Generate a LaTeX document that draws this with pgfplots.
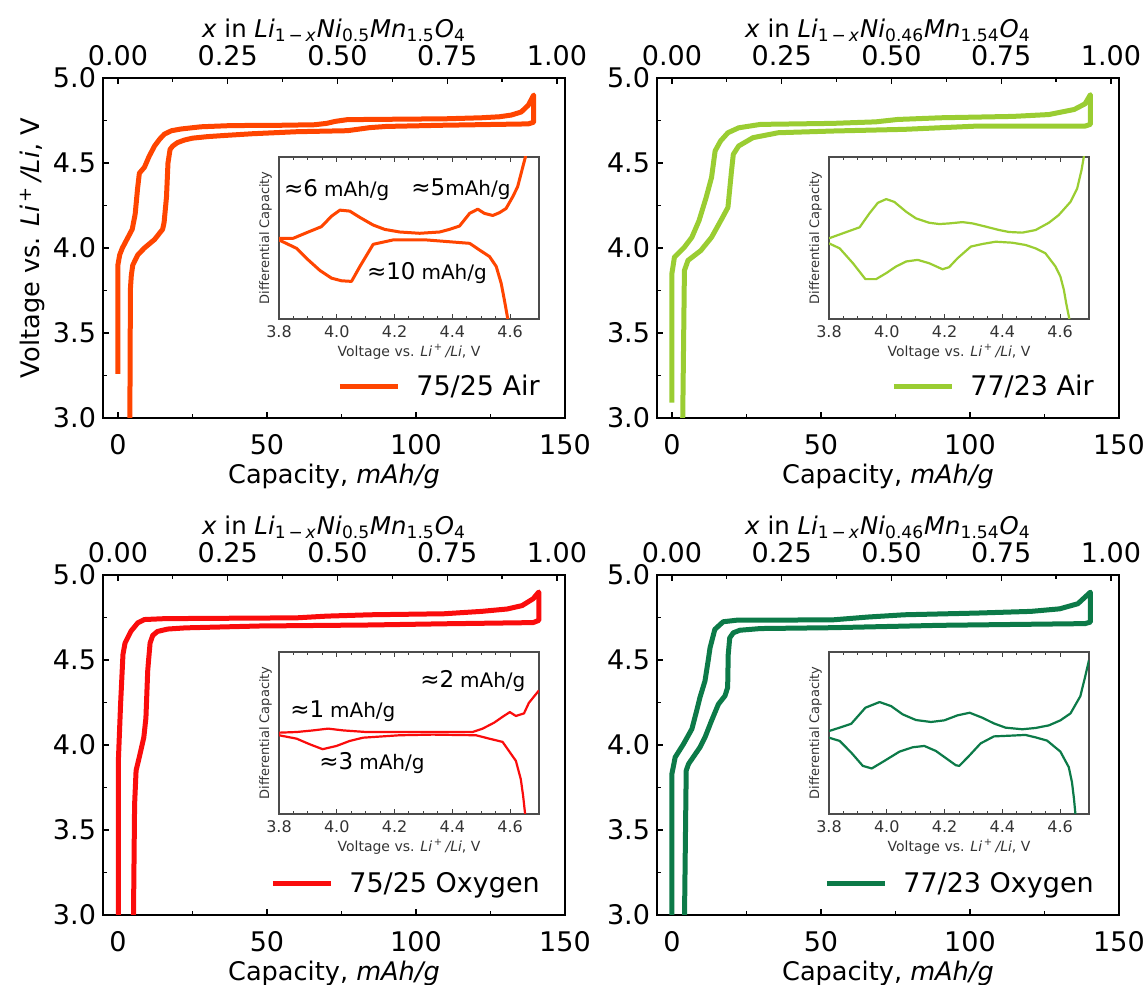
\documentclass[border=0pt]{standalone}
\usepackage{fontspec}
\setmainfont{DejaVu Sans}
\usepackage{pgfplots}
\pgfplotsset{compat=1.18}
\definecolor{cOR}{RGB}{255,69,0}
\definecolor{cYG}{RGB}{154,205,50}
\definecolor{cRD}{RGB}{250,12,12}
\definecolor{cGR}{RGB}{12,122,72}
\newcommand{\fs}[1]{\fontsize{#1}{#1}\selectfont}
\pgfplotsset{
  /pgf/number format/assume math mode=true,
  mainax/.style={scale only axis, width=231pt, height=170pt, anchor=south west,
    xmin=-5, xmax=150, ymin=3, ymax=5,
    xtick={0,50,100,150}, minor xtick={25,75,125},
    ytick={3,3.5,4,4.5,5}, minor ytick={3.25,3.75,4.25,4.75},
    tick align=inside, xtick pos=left, ytick pos=left,
    major tick length=3pt, minor tick length=2pt,
    every tick/.style={black, line width=0.6pt},
    axis line style={black, line width=1pt},
    ticklabel style={font=\fs{13.5}},
    xticklabel shift=4.5pt,
    yticklabel style={/pgf/number format/fixed, /pgf/number format/fixed zerofill, /pgf/number format/precision=1},
    xlabel={Capacity, \textit{mAh/g}},
    xlabel shift=-2pt,
    ylabel shift=-3pt,
    label style={font=\fs{12.8}},
    legend style={draw=none, fill=none, font=\fs{13.5}, at={(0.955,0.045)}, anchor=south east, inner sep=0pt},
    legend image code/.code={\draw[##1, line width=2.5pt] (0pt,0pt) -- (29pt,0pt); \path (35pt,0pt);},
  },
  topax/.style={scale only axis, width=231pt, height=170pt, anchor=south west,
    xmin=-0.03394, xmax=1.01833, ymin=0, ymax=1,
    axis x line*=top, axis y line=none,
    xtick={0,0.25,0.5,0.75,1}, minor xtick={0.125,0.375,0.625,0.875},
    tick align=inside, major tick length=3pt, minor tick length=2pt,
    every tick/.style={black, line width=0.6pt},
    axis line style={black, line width=1pt},
    ticklabel style={font=\fs{13.5}},
    xticklabel style={inner sep=1pt, /pgf/number format/fixed, /pgf/number format/fixed zerofill, /pgf/number format/precision=2},
    xticklabel shift=5pt,
    xlabel shift=0.5pt,
    xlabel style={inner sep=0pt},
    label style={font=\fs{12.2}},
  },
  insetax/.style={scale only axis, width=130pt, height=81pt, anchor=south west,
    xmin=3.8, xmax=4.7, ymin=0, ymax=1,
    xtick={3.8,4.0,4.2,4.4,4.6}, minor x tick num=3, ytick=\empty,
    tick align=inside, xtick pos=both, xticklabel pos=left,
    major tick length=2.5pt, minor tick length=1.5pt,
    every tick/.style={black!75, line width=0.5pt},
    axis line style={black!70, line width=0.7pt},
    ticklabel style={font=\fs{8}, text=black!80},
    xticklabel style={/pgf/number format/fixed, /pgf/number format/fixed zerofill, /pgf/number format/precision=1},
    xlabel={Voltage vs. \textit{Li}\textsuperscript{\,+}\,\textit{/Li}, V},
    ylabel={Differential Capacity},
    xlabel shift=-4pt,
    xlabel style={font=\fs{7}, text=black!80},
    ylabel style={font=\fs{6.5}, text=black!80},
    axis background/.style={fill=white},
  },
  mainline/.style={line width=2.5pt, line join=round},
}
\newcommand{\ann}[2]{#1\hspace{3pt}{\fs{10}#2}}
\begin{document}
\begin{tikzpicture}
\useasboundingbox (0,0) rectangle (573.5pt,492.5pt);
% ---------------- Top left: 75/25 Air
\begin{axis}[mainax, at={(51.5pt,283.5pt)}, ylabel={Voltage vs. \textit{Li}\textsuperscript{\,+}\,\textit{/Li}, V}]
\addplot[cOR, mainline] coordinates {
(0,3.26) (0,3.90) (0.6,3.96) (1.5,4.00) (3,4.05) (4.8,4.11) (5.8,4.20) (6.6,4.35) (7.2,4.44) (8.9,4.475) (10.5,4.54) (12.3,4.60) (14,4.64) (15.6,4.67) (18,4.69) (21.2,4.70) (27.9,4.713) (37.9,4.72) (55,4.722) (66,4.725) (70,4.733) (73,4.745) (77,4.755) (90,4.757) (110,4.76) (122,4.766) (128,4.772) (132,4.782) (135.3,4.80) (137.7,4.84) (139.5,4.90)
(139.5,4.74) (137.7,4.73) (120,4.725) (109,4.722) (90,4.715) (84.5,4.708) (77,4.69) (60,4.684) (45,4.672) (35,4.661) (30,4.655) (25,4.646) (22.3,4.635) (20,4.62) (18.4,4.60) (17.5,4.58) (16.8,4.50) (16.3,4.30) (15.5,4.15) (15,4.11) (12.3,4.05) (8.9,4.0) (6.7,3.96) (5,3.9) (4.5,3.84) (4.2,3.76) (4.0,2.95)
};
\addlegendentry{75/25 Air}
\end{axis}
\begin{axis}[topax, at={(51.5pt,283.5pt)}, xlabel={\textit{x} in \textit{Li}\textsubscript{1\,−\,\textit{x}}\textit{Ni}\textsubscript{0.5}\textit{Mn}\textsubscript{1.5}\textit{O}\textsubscript{4}}]
\end{axis}
\begin{axis}[insetax, at={(139.5pt,333pt)}]
\addplot[cOR, line width=1.5pt, line join=round] coordinates {
(3.8,0.498) (3.849,0.498) (3.896,0.533) (3.947,0.570) (3.982,0.635) (4.011,0.672) (4.045,0.666) (4.080,0.627) (4.126,0.580) (4.166,0.553) (4.218,0.537) (4.287,0.529) (4.356,0.537) (4.390,0.553) (4.425,0.574) (4.460,0.652) (4.488,0.678) (4.511,0.652) (4.540,0.639) (4.563,0.656) (4.586,0.682) (4.609,0.754) (4.626,0.816) (4.644,0.939) (4.653,1.0) (4.66,1.1)
};
\addplot[cOR, line width=1.5pt, line join=round] coordinates {
(3.8,0.488) (3.861,0.436) (3.901,0.365) (3.942,0.299) (3.982,0.252) (4.016,0.236) (4.051,0.232) (4.080,0.324) (4.126,0.461) (4.195,0.488) (4.310,0.488) (4.460,0.467) (4.494,0.426) (4.529,0.385) (4.552,0.324) (4.569,0.221) (4.580,0.119) (4.592,0.0) (4.595,-0.05)
};
\node[font=\fs{11.5}] at (axis cs:4.0,0.796) {\ann{≈6}{mAh/g}};
\node[font=\fs{11.5}] at (axis cs:4.43,0.80) {≈5{\fs{10}mAh/g}};
\node[font=\fs{11.5}] at (axis cs:4.312,0.284) {\ann{≈10}{mAh/g}};
\end{axis}
% ---------------- Top right: 77/23 Air
\begin{axis}[mainax, at={(328.5pt,283.5pt)}]
\addplot[cYG, mainline] coordinates {
(0,3.09) (0,3.85) (0.85,3.946) (4.2,4.005) (6.7,4.063) (9.1,4.161) (11.5,4.298) (13.3,4.415) (14.5,4.571) (16.3,4.629) (18.8,4.678) (22.4,4.707) (29.7,4.727) (53.9,4.733) (68.4,4.742) (75.7,4.756) (90.2,4.766) (114.4,4.774) (126.5,4.785) (135,4.815) (138.6,4.848) (140.4,4.902)
(140.4,4.727) (138.6,4.717) (102.3,4.717) (78.1,4.698) (53.9,4.688) (35.7,4.678) (27.2,4.649) (22.4,4.60) (20.6,4.551) (20,4.454) (18.8,4.239) (17,4.18) (13.3,4.063) (9.7,3.985) (5.4,3.927) (4.2,3.868) (3.6,2.95)
};
\addlegendentry{77/23 Air}
\end{axis}
\begin{axis}[topax, at={(328.5pt,283.5pt)}, xlabel={\textit{x} in \textit{Li}\textsubscript{1\,−\,\textit{x}}\textit{Ni}\textsubscript{0.46}\textit{Mn}\textsubscript{1.54}\textit{O}\textsubscript{4}}]
\end{axis}
\begin{axis}[insetax, at={(414.5pt,333pt)}]
\addplot[cYG, line width=1.1pt, line join=round] coordinates {
(3.8,0.498) (3.848,0.529) (3.906,0.566) (3.940,0.652) (3.969,0.717) (3.998,0.740) (4.026,0.723) (4.067,0.662) (4.101,0.621) (4.147,0.594) (4.182,0.586) (4.216,0.590) (4.262,0.598) (4.297,0.590) (4.343,0.570) (4.389,0.549) (4.423,0.537) (4.469,0.533) (4.515,0.549) (4.561,0.594) (4.595,0.641) (4.636,0.723) (4.659,0.805) (4.674,0.918) (4.682,1.0) (4.69,1.1)
};
\addplot[cYG, line width=1.1pt, line join=round] coordinates {
(3.8,0.467) (3.837,0.436) (3.883,0.344) (3.926,0.246) (3.963,0.246) (3.998,0.283) (4.032,0.324) (4.067,0.355) (4.107,0.365) (4.147,0.344) (4.193,0.307) (4.216,0.320) (4.245,0.375) (4.291,0.447) (4.331,0.463) (4.377,0.477) (4.434,0.471) (4.480,0.457) (4.515,0.436) (4.549,0.406) (4.584,0.324) (4.601,0.262) (4.613,0.180) (4.621,0.098) (4.632,0.0) (4.635,-0.05)
};
\end{axis}
% ---------------- Bottom left: 75/25 Oxygen
\begin{axis}[mainax, at={(51.5pt,35pt)}]
\addplot[cRD, mainline] coordinates {
(0.2,2.95) (0.2,3.928) (0.9,4.24) (1.7,4.533) (2.4,4.60) (4.4,4.67) (6.7,4.719) (8.9,4.738) (16.7,4.744) (22.7,4.744) (60,4.748) (70,4.758) (84.7,4.766) (109.5,4.772) (122,4.786) (130.6,4.80) (135.6,4.82) (139.3,4.86) (141.2,4.90)
(141.2,4.733) (139.3,4.72) (109.5,4.713) (84.7,4.706) (47.5,4.70) (22.7,4.689) (16.7,4.682) (13.3,4.668) (11.7,4.645) (10.8,4.60) (10.3,4.50) (10,4.436) (9.4,4.16) (8.7,4.045) (7.2,3.93) (6.1,3.85) (5.6,3.65) (5.2,2.95)
};
\addlegendentry{75/25 Oxygen}
\end{axis}
\begin{axis}[topax, at={(51.5pt,35pt)}, xlabel={\textit{x} in \textit{Li}\textsubscript{1\,−\,\textit{x}}\textit{Ni}\textsubscript{0.5}\textit{Mn}\textsubscript{1.5}\textit{O}\textsubscript{4}}]
\end{axis}
\begin{axis}[insetax, at={(139.5pt,85.5pt)}]
\addplot[cRD, line width=1.1pt, line join=round] coordinates {
(3.8,0.502) (3.861,0.506) (3.918,0.516) (3.970,0.527) (4.022,0.516) (4.102,0.506) (4.217,0.506) (4.332,0.506) (4.470,0.506) (4.505,0.527) (4.545,0.564) (4.574,0.600) (4.599,0.629) (4.620,0.605) (4.648,0.621) (4.665,0.686) (4.7,0.763)
};
\addplot[cRD, line width=1.1pt, line join=round] coordinates {
(3.8,0.486) (3.861,0.465) (3.907,0.430) (3.951,0.400) (3.999,0.420) (4.045,0.451) (4.091,0.471) (4.217,0.486) (4.332,0.490) (4.482,0.486) (4.528,0.465) (4.574,0.445) (4.620,0.328) (4.637,0.215) (4.645,0.113) (4.652,0.0) (4.654,-0.05)
};
\node[font=\fs{11.5}] at (axis cs:4.471,0.82) {\ann{≈2}{mAh/g}};
\node[font=\fs{11.5}] at (axis cs:4.021,0.634) {\ann{≈1}{mAh/g}};
\node[font=\fs{11.5}] at (axis cs:4.122,0.317) {\ann{≈3}{mAh/g}};
\end{axis}
% ---------------- Bottom right: 77/23 Oxygen
\begin{axis}[mainax, at={(328.5pt,35pt)}]
\addplot[cGR, mainline] coordinates {
(0,2.95) (0,3.83) (1.1,3.928) (3.9,4.006) (6.7,4.094) (8.3,4.201) (9.4,4.279) (11.1,4.377) (12.2,4.50) (12.8,4.572) (14.4,4.68) (17.2,4.725) (21.7,4.734) (53.9,4.736) (66,4.753) (78,4.766) (102.3,4.776) (120.5,4.786) (130.1,4.801) (136.2,4.831) (140.4,4.899)
(140.4,4.723) (138.6,4.714) (90.2,4.704) (53.9,4.690) (29.7,4.685) (22.8,4.675) (20.6,4.66) (19.4,4.63) (18.9,4.533) (18.7,4.338) (17.8,4.289) (15.6,4.24) (13.3,4.143) (11.1,4.045) (9.4,3.986) (5.6,3.889) (4.8,3.85) (4.2,2.95)
};
\addlegendentry{77/23 Oxygen}
\end{axis}
\begin{axis}[topax, at={(328.5pt,35pt)}, xlabel={\textit{x} in \textit{Li}\textsubscript{1\,−\,\textit{x}}\textit{Ni}\textsubscript{0.46}\textit{Mn}\textsubscript{1.54}\textit{O}\textsubscript{4}}]
\end{axis}
\begin{axis}[insetax, at={(414.5pt,85.5pt)}]
\addplot[cGR, line width=1.1pt, line join=round] coordinates {
(3.8,0.512) (3.837,0.533) (3.877,0.557) (3.926,0.656) (3.975,0.691) (4.015,0.666) (4.055,0.615) (4.101,0.580) (4.153,0.568) (4.199,0.578) (4.245,0.609) (4.287,0.625) (4.331,0.594) (4.371,0.559) (4.411,0.533) (4.469,0.523) (4.515,0.531) (4.561,0.547) (4.601,0.578) (4.636,0.621) (4.670,0.727) (4.687,0.850) (4.7,0.95)
};
\addplot[cGR, line width=1.1pt, line join=round] coordinates {
(3.8,0.471) (3.837,0.451) (3.877,0.379) (3.917,0.297) (3.948,0.281) (3.992,0.328) (4.044,0.385) (4.090,0.412) (4.130,0.420) (4.170,0.389) (4.210,0.338) (4.239,0.301) (4.251,0.297) (4.285,0.359) (4.325,0.436) (4.371,0.479) (4.434,0.484) (4.480,0.488) (4.515,0.473) (4.555,0.453) (4.601,0.385) (4.630,0.289) (4.641,0.197) (4.648,0.094) (4.653,0.0) (4.655,-0.05)
};
\end{axis}
\end{tikzpicture}
\end{document}
